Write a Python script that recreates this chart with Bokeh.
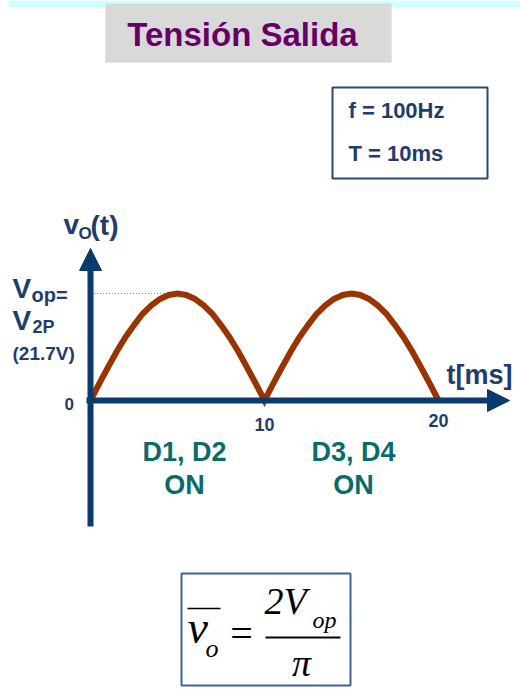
from bokeh.plotting import figure
from bokeh.models import Range1d, Label, Arrow, NormalHead
from bokeh.embed import file_html
from bokeh.resources import INLINE

# ---- data -------------------------------------------------------------
# full-wave rectified output, two half periods (T = 10 ms)
t_ms = [0.0, 0.5, 1.0, 1.5, 2.0, 2.5, 3.0, 3.5, 4.0, 4.5, 5.0,
        5.5, 6.0, 6.5, 7.0, 7.5, 8.0, 8.5, 9.0, 9.5, 10.0,
        10.5, 11.0, 11.5, 12.0, 12.5, 13.0, 13.5, 14.0, 14.5, 15.0,
        15.5, 16.0, 16.5, 17.0, 17.5, 18.0, 18.5, 19.0, 19.5, 20.0]
v_out = [0.0, 3.4, 6.7, 9.9, 12.8, 15.3, 17.6, 19.3, 20.6, 21.4, 21.7,
         21.4, 20.6, 19.3, 17.6, 15.3, 12.8, 9.9, 6.7, 3.4, 0.0,
         3.4, 6.7, 9.9, 12.8, 15.3, 17.6, 19.3, 20.6, 21.4, 21.7,
         21.4, 20.6, 19.3, 17.6, 15.3, 12.8, 9.9, 6.7, 3.4, 0.0]
v_op = 21.7
t_peak = 5.0
tick_t = [10, 20]
tick_labels = ["10", "20"]
diode_labels = ["D1, D2", "D3, D4"]
info_lines = ["f = 100Hz", "T = 10ms"]

# ---- page geometry (pixels) --------------------------------------------
W, H = 520, 689
X0, KX = 90, 17.4      # pixel of t = 0, pixels per ms
Y0, KY = 400, 4.93     # pixel of v = 0, pixels per volt
BASE_SHIFT = 0.33      # label anchor correction, fraction of font size


def tx(px):
    return (px - X0) / KX


def vy(py):
    return (Y0 - py) / KY


NAVY = "#0B3B6E"
TEXT_NAVY = "#1F3D6B"
BROWN = "#993300"
TEAL = "#0B6B6B"
PURPLE = "#660066"
SANS = "Liberation Sans"
SERIF = "Liberation Serif"

p = figure(width=W, height=H, x_range=Range1d(tx(0), tx(W)),
           y_range=Range1d(vy(H), vy(0)), output_backend="svg",
           toolbar_location=None, min_border=0, x_axis_location=None,
           y_axis_location=None, outline_line_color=None,
           background_fill_color="white", border_fill_color="white")
p.grid.grid_line_color = None


def label(px, py, text, size, color, font=SANS, style="bold", align="left",
          x_data=None):
    x = tx(px) if x_data is None else x_data
    p.add_layout(Label(x=x, y=vy(py - BASE_SHIFT * size), text=text,
                       text_font=font, text_font_size=f"{size}px",
                       text_font_style=style, text_color=color,
                       text_align=align, text_baseline="alphabetic"))


def box(x0, y0, x1, y1, fill, line=None, lw=0):
    p.quad(left=tx(x0), right=tx(x1), top=vy(y0), bottom=vy(y1),
           fill_color=fill, line_color=line, line_width=lw)


# header band and title
box(8, 0, 520, 7, "#CCFFFF")
box(105, 3, 391, 62, "#D9D9D9", "#E6E6E6", 1)
label(242, 45, "Tensión Salida", 33, PURPLE, align="center")

# frequency / period box
box(332, 87, 487, 178, "white", "#2B4A72", 2)
label(348, 117, info_lines[0], 22, TEXT_NAVY)
label(348, 160, info_lines[1], 22, TEXT_NAVY)

# axes with arrow heads
p.add_layout(Arrow(x_start=0, y_start=vy(526), x_end=0, y_end=vy(248),
                   line_color=NAVY, line_width=6,
                   end=NormalHead(size=22, fill_color=NAVY, line_color=NAVY)))
p.add_layout(Arrow(x_start=tx(86), y_start=0, x_end=tx(509), y_end=0,
                   line_color=NAVY, line_width=6,
                   end=NormalHead(size=22, fill_color=NAVY, line_color=NAVY)))

# peak reference line
p.segment(x0=[0.2], y0=[v_op], x1=[t_peak], y1=[v_op], line_color="#7083A6",
          line_width=1, line_dash="1 2")

# rectified waveform
p.line(t_ms, v_out, line_color=BROWN, line_width=6, line_join="miter")

# axis titles
label(63, 233, "v", 28, TEXT_NAVY)
label(78, 239, "O", 17, TEXT_NAVY)
label(90, 234, "(t)", 28, TEXT_NAVY)
label(446, 383, "t[ms]", 27, TEXT_NAVY)

# peak value label
label(12, 297, "V", 28, TEXT_NAVY)
label(31, 301, "op=", 20, TEXT_NAVY)
label(12, 329, "V", 28, TEXT_NAVY)
label(32, 332, "2P", 18, TEXT_NAVY)
label(12, 359, f"({v_op}V)", 19, TEXT_NAVY)

# ticks
label(64, 409, "0", 17, TEXT_NAVY)
for t, txt, py in zip(tick_t, tick_labels, [430, 426]):
    label(0, py, txt, 18, TEXT_NAVY, align="center", x_data=t)

# conducting diodes
for cx, txt in zip([184, 353], diode_labels):
    label(cx, 460, txt, 27, TEAL, align="center")
    label(cx, 493, "ON", 27, TEAL, align="center")

# average value formula
box(181, 573, 350, 685, "white", "#3F6391", 2)
p.segment(x0=[tx(187)], y0=[vy(608)], x1=[tx(220)], y1=[vy(608)],
          line_color="black", line_width=1.5)
label(187, 642, "v", 46, "black", SERIF, "italic")
label(205, 657, "o", 26, "black", SERIF, "italic")
label(241, 646, "=", 40, "black", SERIF, "normal", "center")
label(264, 613, "2V", 38, "black", SERIF, "italic")
label(312, 627, "op", 24, "black", SERIF, "italic")
p.segment(x0=[tx(265)], y0=[vy(637)], x1=[tx(340)], y1=[vy(637)],
          line_color="black", line_width=1.8)
label(301, 675, "π", 38, "black", SERIF, "italic", "center")

open("out.html", "w").write(file_html(p, INLINE))
